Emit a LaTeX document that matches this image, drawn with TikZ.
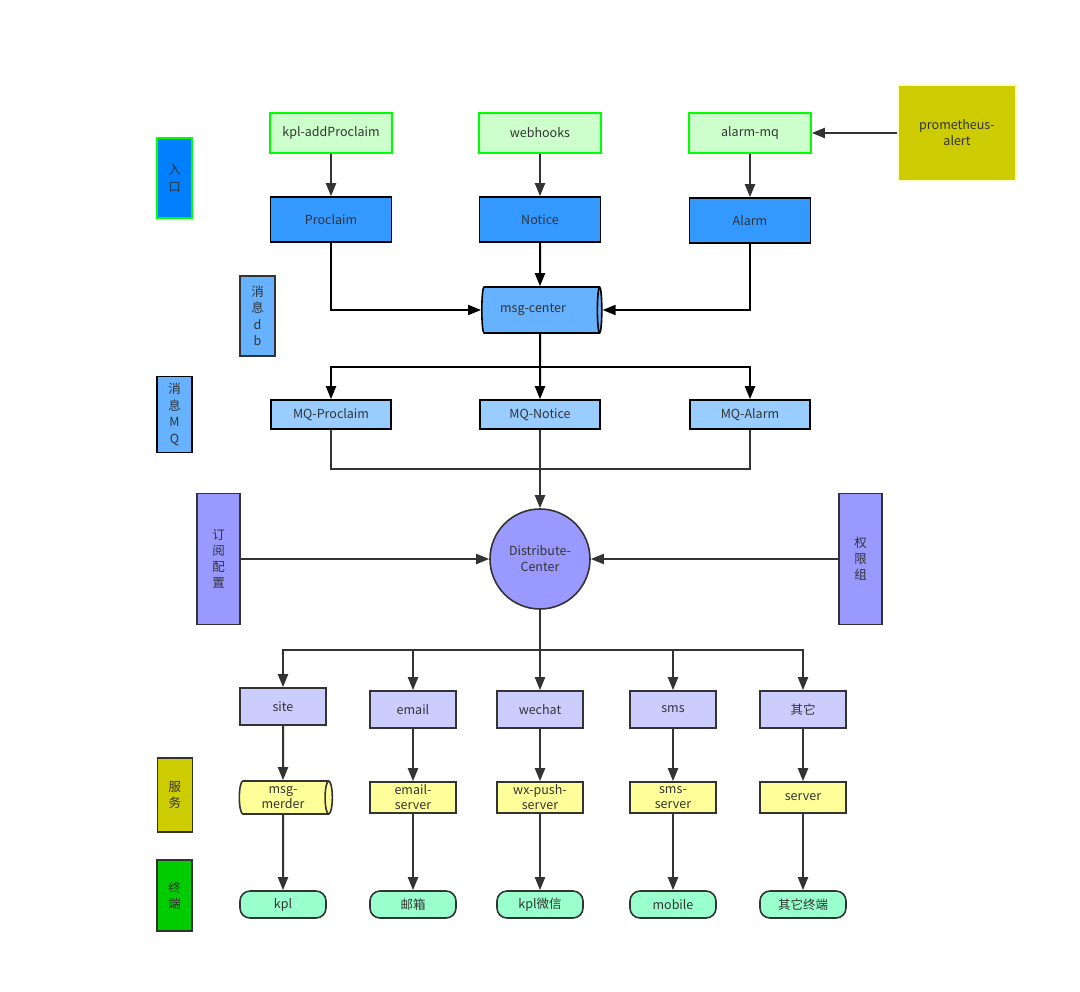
\documentclass[tikz,border=0pt]{standalone}
\usepackage{fontspec}
\setmainfont{Noto Sans CJK SC}
\usepackage{xcolor}
\usepackage{tikz}
\usetikzlibrary{arrows.meta, positioning, shapes.geometric, calc}
\definecolor{Ink}{HTML}{333333}
\definecolor{EntryBlue}{HTML}{0080FF}
\definecolor{SrcGreen}{HTML}{CCFFCC}
\definecolor{Lime}{HTML}{00FF00}
\definecolor{CoreBlue}{HTML}{3399FF}
\definecolor{DbBlue}{HTML}{66B2FF}
\definecolor{MqBlue}{HTML}{99CCFF}
\definecolor{Violet}{HTML}{9999FF}
\definecolor{Lavender}{HTML}{CCCCFF}
\definecolor{Olive}{HTML}{CCCC00}
\definecolor{Cream}{HTML}{FFFFCC}
\definecolor{Butter}{HTML}{FFFF99}
\definecolor{Mint}{HTML}{99FFCC}
\definecolor{Grass}{HTML}{00CC00}

\begin{document}
\begin{tikzpicture}[
  x=1pt, y=-1pt,
  font=\fontsize{12.5}{16}\selectfont,
  every node/.style={text=Ink},
  box/.style={draw=Ink, line width=1.6pt, minimum width=86pt, minimum height=37pt, align=center, inner sep=1pt},
  src/.style={box, draw=Lime, fill=SrcGreen, minimum width=122pt, minimum height=40pt},
  core/.style={box, draw=black, fill=CoreBlue, minimum width=121pt, minimum height=45pt},
  mq/.style={box, draw=black, fill=MqBlue, minimum width=120pt, minimum height=29pt},
  chan/.style={box, fill=Lavender},
  srv/.style={box, fill=Butter, minimum height=31pt, font=\fontsize{12.5}{15}\selectfont},
  term/.style={box, fill=Mint, rounded corners=10pt, minimum height=27pt},
  lane/.style={box, minimum width=35pt, inner sep=0pt, font=\fontsize{12.5}{16.5}\selectfont},
  store/.style={cylinder, draw=black, line width=1.6pt, shape aspect=0.32, align=center, inner sep=1pt},
  arrow/.style={-{Triangle[length=13pt, width=10pt]}, line width=2pt, draw=Ink},
  barrow/.style={arrow, draw=black},
  link/.style={line width=1.4pt, draw=Ink}
]
\useasboundingbox (0,0) rectangle (1080,992);

% entry row
\node[src] (addproc) at (331,133) {kpl-addProclaim};
\node[src, right=85.4pt of addproc] (webhooks) {webhooks};
\node[src, right=86.4pt of webhooks] (alarmmq) {alarm-mq};
\node[box, draw=Cream, fill=Olive, minimum width=118pt, minimum height=96pt, right=85.4pt of alarmmq] (prom) {prometheus-\\alert};
\node[core, below=42.4pt of addproc] (proclaim) {Proclaim};
\node[core, below=42.4pt of webhooks] (notice) {Notice};
\node[core, below=43.4pt of alarmmq] (alarm) {Alarm};
\node[store, fill=DbBlue, minimum height=120pt, minimum width=46pt, below=43.4pt of notice] (msgcenter) {msg-center\hspace{14pt}};

% queues and dispatcher
\node[mq, below=65.4pt of msgcenter] (mqnotice) {MQ-Notice};
\node[mq, left=87.4pt of mqnotice] (mqproc) {MQ-Proclaim};
\node[mq, right=88.4pt of mqnotice] (mqalarm) {MQ-Alarm};
\node[circle, draw=Ink, line width=1.6pt, fill=Violet, minimum size=100pt, align=center, inner sep=0pt, below=78.4pt of mqnotice] (dist) {Distribute-\\Center};
\node[box, fill=Violet, minimum width=43pt, minimum height=131pt, left=248.4pt of dist] (subcfg) {订\\阅\\配\\置};
\node[box, fill=Violet, minimum width=43pt, minimum height=131pt, right=247.4pt of dist] (auth) {权\\限\\组};

% channels
\node[chan, below=80.4pt of dist] (wechat) {wechat};
\node[chan, left=39.4pt of wechat] (email) {email};
\node[chan, left=42.4pt of email, yshift=3pt] (site) {site};
\node[chan, right=45.4pt of wechat] (sms) {sms};
\node[chan, right=42.4pt of sms] (other) {其它};
\node[store, draw=Ink, fill=Butter, minimum height=93pt, minimum width=33pt, shape aspect=0.3, font=\fontsize{12.5}{15}\selectfont, below=54.4pt of site] (merder) {msg-\\merder};
\node[srv, below=52.4pt of email] (mailsrv) {email-\\server};
\node[srv, below=52.4pt of wechat] (wxsrv) {wx-push-\\server};
\node[srv, below=52.4pt of sms] (smssrv) {sms-\\server};
\node[srv, below=52.4pt of other] (othersrv) {server};
\node[term, below=75.4pt of merder] (kpl) {kpl};
\node[term, below=76.4pt of mailsrv] (mailbox) {邮箱};
\node[term, below=76.4pt of wxsrv] (wxkpl) {kpl微信};
\node[term, below=76.4pt of smssrv] (mobile) {mobile};
\node[term, below=76.4pt of othersrv] (otherend) {其它终端};

% lane labels
\node[lane, draw=Lime, fill=EntryBlue, minimum height=80pt] (entry) at (174.5,178) {入\\口};
\node[lane, fill=DbBlue, minimum height=80pt] (msgdb) at (257.5,316) {消\\息\\d\\b};
\node[lane, draw=black, fill=DbBlue, minimum height=76pt, left=77.4pt of mqproc] (msgmq) {消\\息\\M\\Q};
\node[lane, fill=Olive, minimum height=74pt, left=45.4pt of merder, yshift=2.5pt] (svc) {服\\务};
\node[lane, fill=Grass, minimum height=71pt, left=46.4pt of kpl, yshift=9pt] (endpt) {终\\端};

\coordinate (mqfork) at ($(msgcenter.south)!.5!(mqnotice.north)$);
\coordinate (mqjoin) at ($(mqnotice.south)!.5!(dist.north)$);
\coordinate (chfork) at ($(dist.south)!.5!(wechat.north)$);

\draw[arrow] (addproc) -- (proclaim);
\draw[arrow] (webhooks) -- (notice);
\draw[arrow] (alarmmq) -- (alarm);
\draw[arrow] (prom) -- (alarmmq);
\draw[barrow] (proclaim) |- (msgcenter);
\draw[barrow] (notice) -- (msgcenter);
\draw[barrow] (alarm) |- (msgcenter);
\draw[barrow] (msgcenter) -- (mqnotice);
\draw[barrow] (mqfork) -| (mqproc);
\draw[barrow] (mqfork) -| (mqalarm);
\draw[link] (mqproc) |- (mqjoin) -| (mqalarm);
\draw[arrow] (mqnotice) -- (dist);
\draw[arrow] (subcfg) -- (dist);
\draw[arrow] (auth) -- (dist);
\draw[arrow] (dist) -- (wechat);
\draw[arrow] (chfork) -| (site);
\draw[arrow] (chfork) -| (email);
\draw[arrow] (chfork) -| (sms);
\draw[arrow] (chfork) -| (other);
\draw[arrow] (site) -- (merder);
\draw[arrow] (email) -- (mailsrv);
\draw[arrow] (wechat) -- (wxsrv);
\draw[arrow] (sms) -- (smssrv);
\draw[arrow] (other) -- (othersrv);
\draw[arrow] (merder) -- (kpl);
\draw[arrow] (mailsrv) -- (mailbox);
\draw[arrow] (wxsrv) -- (wxkpl);
\draw[arrow] (smssrv) -- (mobile);
\draw[arrow] (othersrv) -- (otherend);
\end{tikzpicture}
\end{document}
